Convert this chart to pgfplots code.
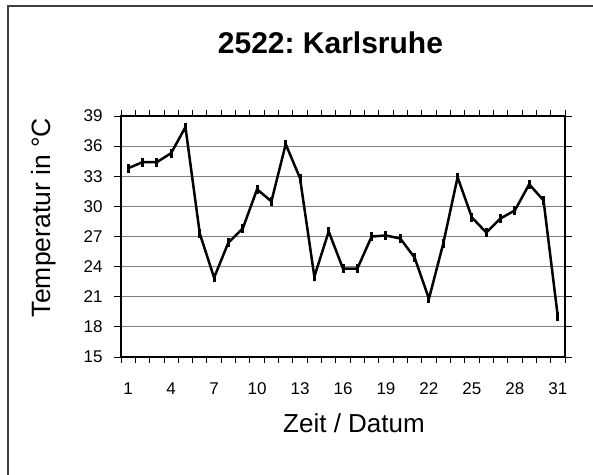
\documentclass[border=0pt]{standalone}
\usepackage{pgfplots}
\pgfplotsset{compat=1.18}
\usepackage{fontspec}
\setmainfont{Liberation Sans}
\frenchspacing
\begin{document}
\begin{tikzpicture}
\useasboundingbox (0,0) rectangle (593bp,-475bp);
\draw[draw={rgb,255:red,64;green,64;blue,64}, line width=2bp] (7.5bp,-476bp) -- (7.5bp,-5.5bp) -- (594bp,-5.5bp);
\begin{axis}[
  at={(121bp,-357bp)}, anchor=south west,
  scale only axis, width=444bp, height=241bp,
  xmin=0.5, xmax=31.5, ymin=15, ymax=39,
  axis line style={line width=1.6bp, black},
  xtick={1,4,...,31},
  minor xtick={0.5,1.5,...,31.5},
  every major x tick/.style={draw=none},
  minor tick length=6bp,
  ytick={15,18,...,39},
  major tick length=7bp,
  tick align=outside,
  tick style={black, line width=0.9bp},
  ymajorgrids,
  major grid style={gray, line width=1bp},
  /pgf/number format/assume math mode=true,
  ticklabel style={font=\fontsize{17bp}{20bp}\selectfont},
  xticklabel style={yshift=-15bp},
  yticklabel style={xshift=-8bp},
  clip=false,
]
\addplot[black, line width=2.5bp, mark=|, mark size=4.5bp, mark options={line width=3bp, solid}] coordinates {
(1,33.8) (2,34.4) (3,34.4) (4,35.3) (5,37.9) (6,27.3) (7,22.9) (8,26.4)
(9,27.8) (10,31.7) (11,30.5) (12,36.2) (13,32.8) (14,23.0) (15,27.5) (16,23.8)
(17,23.8) (18,27.0) (19,27.1) (20,26.8) (21,24.9) (22,20.8) (23,26.3) (24,32.9)
(25,28.9) (26,27.4) (27,28.8) (28,29.6) (29,32.2) (30,30.6) (31,19.0)
};
\end{axis}
\node[anchor=base, font=\bfseries\fontsize{30bp}{34bp}\selectfont] at (330.5bp,-53.5bp) {2522: Karlsruhe};
\node[anchor=base, font=\fontsize{26bp}{30bp}\selectfont] at (354bp,-432bp) {Zeit / Datum};
\node[anchor=base, rotate=90, font=\fontsize{26.5bp}{30bp}\selectfont] at (50.5bp,-217.5bp) {Temperatur in °C};
\end{tikzpicture}
\end{document}
